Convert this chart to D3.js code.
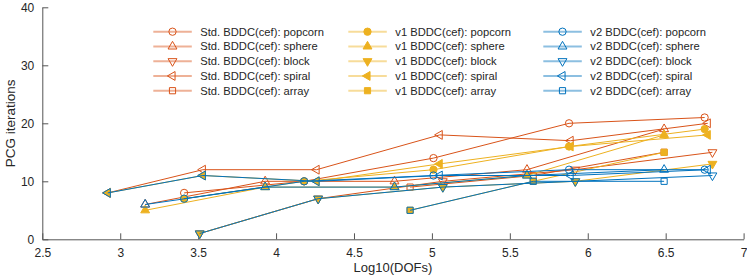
<!DOCTYPE html>
<html>
<head>
<meta charset="utf-8">
<script src="https://cdn.jsdelivr.net/npm/d3@7"></script>
<style>
  html, body { margin: 0; padding: 0; background: #fff; }
  svg { display: block; font-family: "Liberation Sans", Arial, Helvetica, sans-serif; }
</style>
</head>
<body>
<svg id="chart" width="747" height="280"></svg>
<script>
// ---- data ----
const xPopcorn = [3.41, 4.18, 5.01, 5.88, 6.75];
const xSphere  = [3.16, 3.93, 4.76, 5.61, 6.49];
const xBlock   = [3.51, 4.27, 5.07, 5.92, 6.80];
const xSpiral  = [2.92, 3.53, 4.26, 5.05, 5.89, 6.77];
const xArray   = [4.86, 5.65, 6.49];

const stdPopcorn = [8, 10, 14, 20, 21];
const stdSphere  = [6, 10, 10, 12, 19];
const stdBlock   = [1, 7, 10, 12, 15];
const stdSpiral  = [8, 12, 12, 18, 17, 20];
const stdArray   = [9, 11, 15];

const v1Popcorn = [7, 10, 12, 16, 19];
const v1Sphere  = [5, 9, 9, 11, 18];
const v1Block   = [1, 7, 9, 10, 13];
const v1Spiral  = [8, 11, 10, 13, 16, 18];
const v1Array   = [5, 10, 15];

const v2Popcorn = [7, 10, 11, 12, 12];
const v2Sphere  = [6, 9, 9, 11, 12];
const v2Block   = [1, 7, 9, 10, 11];
const v2Spiral  = [8, 11, 10, 11, 11, 12];
const v2Array   = [5, 10, 10];

const meshes = ["popcorn", "sphere", "block", "spiral", "array"];
const methods = ["Std. BDDC(cef)", "v1 BDDC(cef)", "v2 BDDC(cef)"];
const xTicks = [2.5, 3, 3.5, 4, 4.5, 5, 5.5, 6, 6.5, 7];
const yTicks = [0, 10, 20, 30, 40];
const xLabel = "Log10(DOFs)";
const yLabel = "PCG iterations";

// ---- build series ----
const xs = { popcorn: xPopcorn, sphere: xSphere, block: xBlock, spiral: xSpiral, array: xArray };
const ys = [
  { popcorn: stdPopcorn, sphere: stdSphere, block: stdBlock, spiral: stdSpiral, array: stdArray },
  { popcorn: v1Popcorn, sphere: v1Sphere, block: v1Block, spiral: v1Spiral, array: v1Array },
  { popcorn: v2Popcorn, sphere: v2Sphere, block: v2Block, spiral: v2Spiral, array: v2Array }
];
const colors = ["#D95319", "#EDB120", "#0072BD"];
const filled = [false, true, false];

const series = [];
methods.forEach((m, mi) => meshes.forEach(mesh => {
  series.push({
    method: mi, mesh, label: m + ": " + mesh,
    pts: xs[mesh].map((x, i) => ({ x, y: ys[mi][mesh][i] }))
  });
}));

// ---- layout ----
const svg = d3.select("#chart");
const L = 42.3, R = 743.6, T = 7.3, B = 239.3;
const x = d3.scaleLinear().domain([2.5, 7]).range([L, R]);
const y = d3.scaleLinear().domain([0, 40]).range([B, T]);

// ---- marker shapes ----
function markerPath(mesh) {
  if (mesh === "popcorn") return d3.symbol(d3.symbolCircle, 42)();
  if (mesh === "array") return d3.symbol(d3.symbolSquare, 38)();
  return d3.symbol(d3.symbolTriangle, 34)();
}
function markerRot(mesh) {
  if (mesh === "block") return 180;
  if (mesh === "spiral") return -90;
  return 0;
}
function drawMarker(g, mesh, mi, cx, cy) {
  g.append("path")
    .attr("d", markerPath(mesh))
    .attr("transform", `translate(${cx},${cy}) rotate(${markerRot(mesh)})`)
    .attr("fill", filled[mi] ? colors[mi] : "none")
    .attr("stroke", colors[mi])
    .attr("stroke-width", 1);
}

// ---- axes ----
const axisColor = "#555555";
const gx = svg.append("g").attr("transform", `translate(0,${B})`)
  .call(d3.axisBottom(x).tickValues(xTicks).tickSizeInner(-6).tickSizeOuter(0).tickPadding(9)
    .tickFormat(d3.format("~g")));
const gy = svg.append("g").attr("transform", `translate(${L},0)`)
  .call(d3.axisLeft(y).tickValues(yTicks).tickSizeInner(-6).tickSizeOuter(0).tickPadding(8));
[gx, gy].forEach(g => {
  g.select(".domain").attr("stroke", axisColor).attr("stroke-width", 1);
  g.selectAll(".tick line").attr("stroke", axisColor).attr("stroke-width", 1);
  g.selectAll(".tick text").attr("fill", "#262626").attr("font-size", 12)
    .attr("font-family", "'Liberation Sans', Arial, sans-serif");
});

svg.append("text").attr("x", (L + R) / 2).attr("y", 272)
  .attr("text-anchor", "middle").attr("font-size", 13).attr("fill", "#262626")
  .text(xLabel);
svg.append("text").attr("transform", `translate(15,${(T + B) / 2}) rotate(-90)`)
  .attr("text-anchor", "middle").attr("font-size", 13.5).attr("fill", "#262626")
  .text(yLabel);

// ---- data ----
const plot = svg.append("g");
const line = d3.line().x(d => x(d.x)).y(d => y(d.y));
series.forEach(s => {
  const g = plot.append("g");
  g.append("path").attr("d", line(s.pts)).attr("fill", "none")
    .attr("stroke", colors[s.method]).attr("stroke-width", 1);
  s.pts.forEach(p => drawMarker(g, s.mesh, s.method, x(p.x), y(p.y)));
});

// ---- legend ----
const colX = [153.3, 348.3, 543.3];
const rowY0 = 31.7, rowDy = 14.75;
const leg = svg.append("g");
series.forEach(s => {
  const mi = s.method, ri = meshes.indexOf(s.mesh);
  const lx = colX[mi], ly = rowY0 + ri * rowDy;
  leg.append("line").attr("x1", lx).attr("x2", lx + 38.5).attr("y1", ly).attr("y2", ly)
    .attr("stroke", colors[mi]).attr("stroke-width", 2).attr("stroke-opacity", 0.45);
  drawMarker(leg, s.mesh, mi, lx + 19.2, ly);
  leg.append("text").attr("x", lx + 47).attr("y", ly).attr("dy", "0.35em")
    .attr("font-size", 11.2).attr("fill", "#262626").text(s.label);
});
</script>
</body>
</html>
